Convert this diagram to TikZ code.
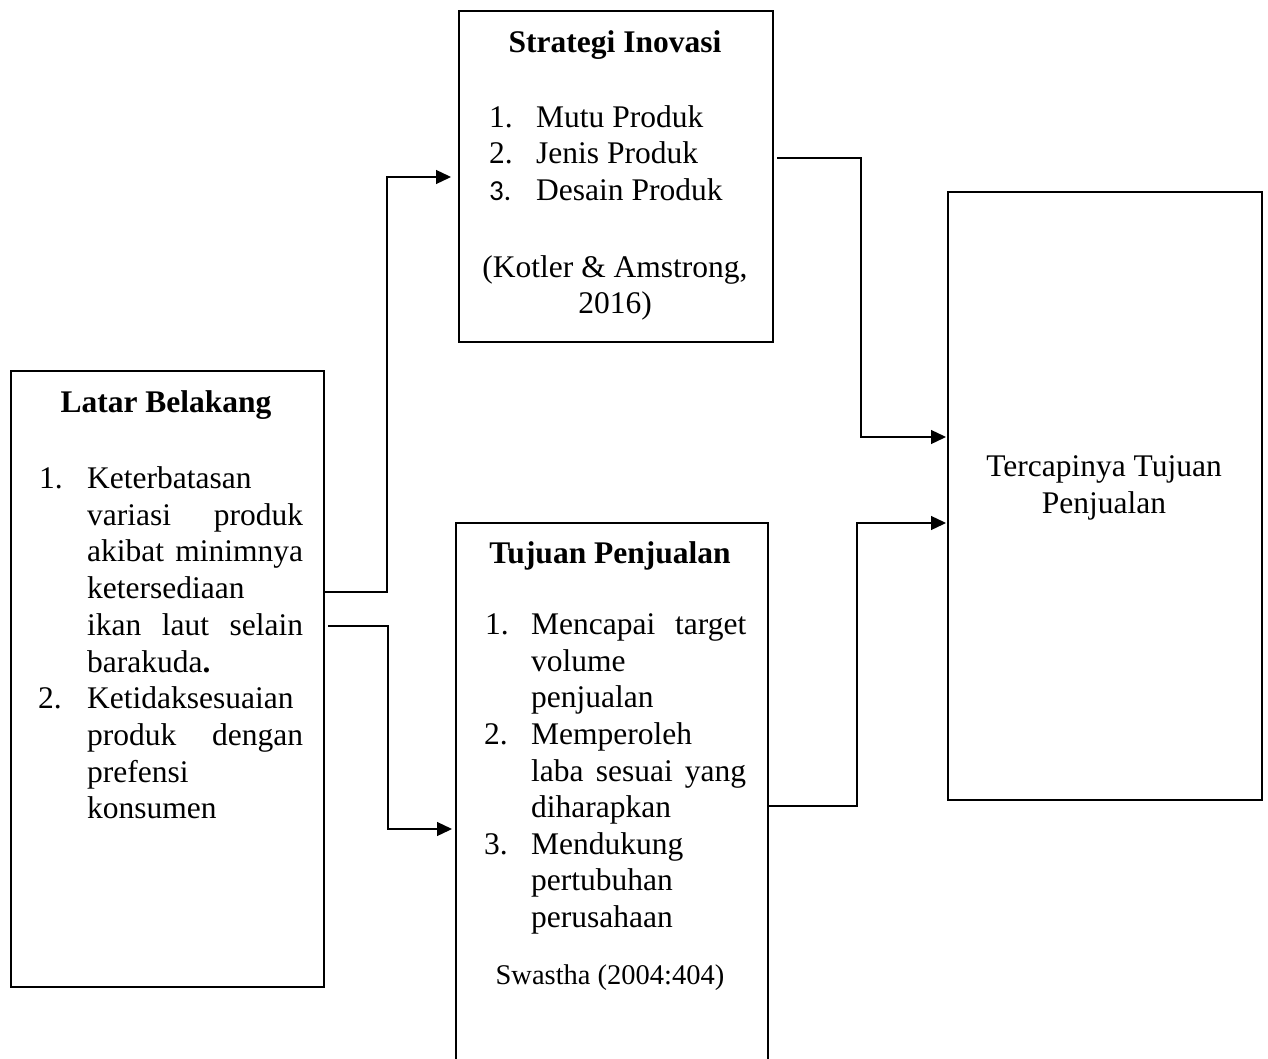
\documentclass[tikz,border=0pt]{standalone}
\usepackage{fontspec}
\setmainfont{Liberation Serif}
\newfontfamily\calfont{Carlito}
\usetikzlibrary{arrows.meta}
\newcommand\bodyfont{\fontsize{31.5}{37}\selectfont}
\newcommand\smallbody{\fontsize{28.5}{31}\selectfont}
\tikzset{
  box/.style={draw, line width=2pt, inner sep=0pt, anchor=north west},
  txt/.style={inner sep=0pt, anchor=base west, font=\bodyfont},
  ctr/.style={inner sep=0pt, anchor=base, font=\bodyfont},
  ttl/.style={inner sep=0pt, anchor=base, font=\bodyfont\bfseries},
  conn/.style={line width=1.3pt, -{Triangle[length=15pt,width=14pt]}},
}
\begin{document}
\begin{tikzpicture}[x=1pt,y=-1pt]
\useasboundingbox (0,0) rectangle (1268,1059);
% boxes
\node[box, minimum width=313pt, minimum height=616pt] (lb) at (10,370) {};
\node[box, minimum width=314pt, minimum height=331pt] (si) at (458,10) {};
\node[box, minimum width=312pt, minimum height=560pt] (tp) at (455,522) {};
\node[box, minimum width=314pt, minimum height=608pt] (tt) at (947,191) {};
% Latar Belakang
\node[ttl] (lbt) at (166,412) {Latar Belakang};
\node[txt] (lbn1) at (39,488) {1.};
\node[txt] (lb1) at (87,488) {Keterbatasan};
\node[txt] (lb2) at (87,525) {\makebox[216pt][s]{variasi produk}};
\node[txt] (lb3) at (87,561) {\makebox[216pt][s]{akibat minimnya}};
\node[txt] (lb4) at (87,598) {ketersediaan};
\node[txt] (lb5) at (87,635) {\makebox[216pt][s]{ikan laut selain}};
\node[txt] (lb6) at (87,672) {barakuda\textbf{.}};
\node[txt] (lbn2) at (38,708) {2.};
\node[txt] (lb7) at (87,708) {Ketidaksesuaian};
\node[txt] (lb8) at (87,745) {\makebox[216pt][s]{produk dengan}};
\node[txt] (lb9) at (87,782) {prefensi};
\node[txt] (lb10) at (87,818) {konsumen};
% Strategi Inovasi
\node[ttl] (sit) at (615,53) {Strategi Inovasi};
\node[txt] (sin1) at (489,128) {1.};
\node[txt] (si1) at (536,128) {Mutu Produk};
\node[txt] (sin2) at (489,164) {2.};
\node[txt] (si2) at (536,164) {Jenis Produk};
\node[txt, font=\fontsize{29}{37}\selectfont\calfont] (sin3) at (489,201) {3.};
\node[txt] (si3) at (536,201) {Desain Produk};
\node[ctr] (sic1) at (615,277) {(Kotler \& Amstrong,};
\node[ctr] (sic2) at (615,313) {2016)};
% Tujuan Penjualan
\node[ttl] (tpt) at (610,563) {Tujuan Penjualan};
\node[txt] (tpn1) at (485,634) {1.};
\node[txt] (tp1) at (531,634) {\makebox[215pt][s]{Mencapai target}};
\node[txt] (tp2) at (531,671) {volume};
\node[txt] (tp3) at (531,707) {penjualan};
\node[txt] (tpn2) at (484,744) {2.};
\node[txt] (tp4) at (531,744) {Memperoleh};
\node[txt] (tp5) at (531,781) {\makebox[215pt][s]{laba sesuai yang}};
\node[txt] (tp6) at (531,817) {diharapkan};
\node[txt] (tpn3) at (484,854) {3.};
\node[txt] (tp7) at (531,854) {Mendukung};
\node[txt] (tp8) at (531,890) {pertubuhan};
\node[txt] (tp9) at (531,927) {perusahaan};
\node[ctr, font=\smallbody] (tpc) at (610,984) {Swastha (2004:404)};
% Tercapinya
\node[ctr] (tt1) at (1104,476) {Tercapinya Tujuan};
\node[ctr] (tt2) at (1104,513) {Penjualan};
% connectors
\coordinate (a1) at (387,592);
\coordinate (a2) at (387,177);
\coordinate (b1) at (388,626);
\coordinate (b2) at (388,829);
\coordinate (c1) at (861,158);
\coordinate (c2) at (861,437);
\coordinate (d1) at (857,806);
\coordinate (d2) at (857,523);
\draw[conn] (lb.east |- a1) -- (a1) -- (a2) -- ([xshift=-7pt]si.west |- a2);
\draw[conn] ([xshift=3pt]lb.east |- b1) -- (b1) -- (b2) -- ([xshift=-3pt]tp.west |- b2);
\draw[conn] ([xshift=3pt]si.east |- c1) -- (c1) -- (c2) -- ([xshift=-1pt]tt.west |- c2);
\draw[conn] (tp.east |- d1) -- (d1) -- (d2) -- ([xshift=-1pt]tt.west |- d2);
\end{tikzpicture}
\end{document}
